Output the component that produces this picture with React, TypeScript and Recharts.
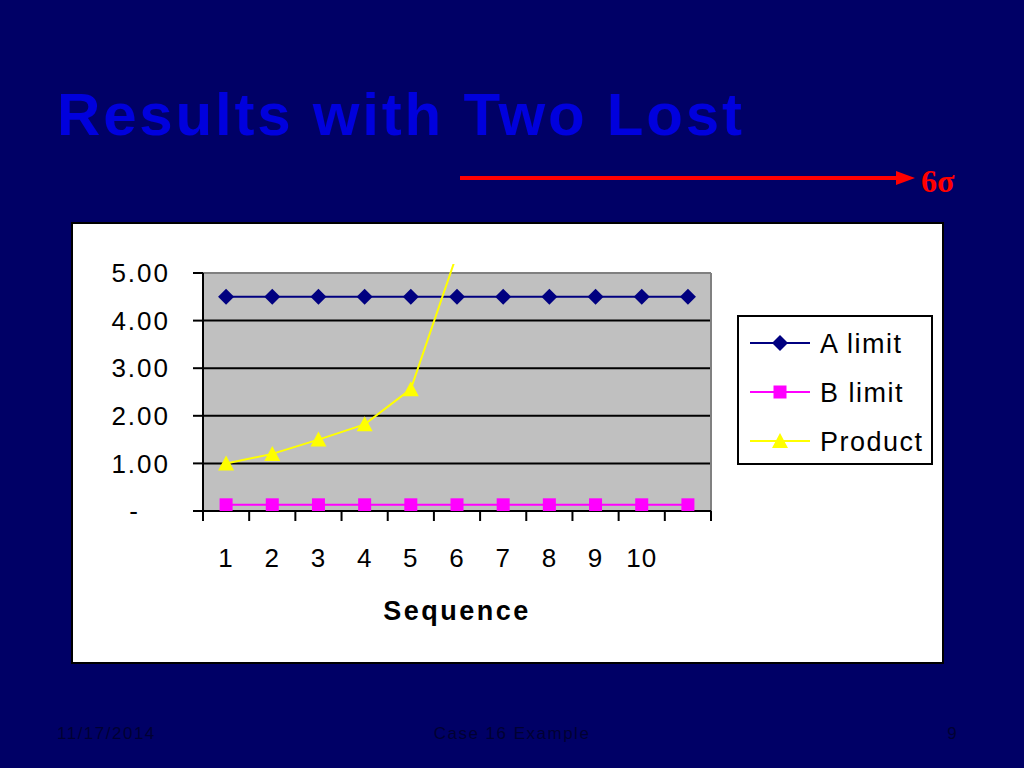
import React from 'react';
import { LineChart, Line, XAxis, YAxis, CartesianGrid, ReferenceLine, Legend } from 'recharts';

// sequence categories (the 11th point has no label on the slide)
const categories = ['1', '2', '3', '4', '5', '6', '7', '8', '9', '10', ''];
const aLimit = [4.5, 4.5, 4.5, 4.5, 4.5, 4.5, 4.5, 4.5, 4.5, 4.5, 4.5];
const bLimit = [0.13, 0.13, 0.13, 0.13, 0.13, 0.13, 0.13, 0.13, 0.13, 0.13, 0.13];
const product = [1.0, 1.2, 1.5, 1.82, 2.56, 5.4, null, null, null, null, null];
const yTicks = [0, 1, 2, 3, 4, 5];

const series = [
  { key: 'a', name: 'A limit', color: '#000080', marker: 'diamond' },
  { key: 'b', name: 'B limit', color: '#FF00FF', marker: 'square' },
  { key: 'product', name: 'Product', color: '#FFFF00', marker: 'triangle' },
];

const data = categories.map((c, i) => ({
  seq: i + 1,
  a: aLimit[i],
  b: bLimit[i],
  product: product[i],
}));

// tick marks sit between categories, labels at the centres
const xTicks = [...categories.flatMap((_, i) => [i + 0.5, i + 1]), categories.length + 0.5];

const FONT = '"Liberation Sans", Arial, sans-serif';

// let the product line run a little past the top of the plot, like the slide does
const clipCss = `
.product-line,
.recharts-line-curve[stroke="#FFFF00"],
g[clip-path]:has(> .recharts-line-curve[stroke="#FFFF00"]) {
  clip-path: url(#productClip) !important;
}
`;

function Marker({ shape, cx, cy, color }: { shape: string; cx: number; cy: number; color: string }) {
  if (shape === 'diamond') {
    return <polygon points={`${cx},${cy - 8} ${cx + 8},${cy} ${cx},${cy + 8} ${cx - 8},${cy}`} fill={color} />;
  }
  if (shape === 'square') {
    return <rect x={cx - 6.5} y={cy - 6.5} width={13} height={13} fill={color} />;
  }
  return <polygon points={`${cx},${cy - 8} ${cx + 8},${cy + 7} ${cx - 8},${cy + 7}`} fill={color} />;
}

const renderDot = (shape: string, color: string) => (p: any) => {
  const k = `${shape}-${p.index}`;
  if (p.cx == null || p.cy == null || p.value == null || Number.isNaN(p.cy)) return <g key={k} />;
  if (p.value > yTicks[yTicks.length - 1]) return <g key={k} />;
  return <Marker key={k} shape={shape} cx={p.cx} cy={p.cy} color={color} />;
};

function YTick({ x, y, payload }: any) {
  const v = payload.value;
  const label = v === 0 ? '-' : v.toFixed(2);
  return (
    <text x={v === 0 ? x - 30 : x} y={y} dy="0.355em" textAnchor="end" fontSize={26}
      letterSpacing={2} fontFamily={FONT} fill="#000">
      {label}
    </text>
  );
}

function XTick({ x, y, payload }: any) {
  const v = payload.value;
  if (!Number.isInteger(v)) {
    return <line x1={x} x2={x} y1={y} y2={y + 10} stroke="#000" strokeWidth={2} />;
  }
  return (
    <text x={x} y={y + 38} dy="0.71em" textAnchor="middle" fontSize={26}
      letterSpacing={1} fontFamily={FONT} fill="#000">
      {categories[v - 1]}
    </text>
  );
}

function LegendBox({ payload }: any) {
  return (
    <svg width={192} height={146} style={{ display: 'block' }}>
      {(payload ?? []).map((entry: any, i: number) => {
        const s = series.find((x) => x.key === entry.dataKey) ?? series[i];
        const cy = 26 + i * 49;
        return (
          <g key={s.key}>
            <line x1={11} x2={71} y1={cy} y2={cy} stroke={s.color} strokeWidth={2} />
            <Marker shape={s.marker} cx={41} cy={cy} color={s.color} />
            <text x={81} y={cy} dy="0.355em" fontSize={27} letterSpacing={1.5}
              fontFamily={FONT} fill="#000">
              {entry.value}
            </text>
          </g>
        );
      })}
    </svg>
  );
}

export default function App() {
  return (
    <div style={{ position: 'absolute', left: 0, top: 0, width: 1024, height: 768, overflow: 'hidden',
      background: '#000066', fontFamily: FONT }}>
      <style>{clipCss}</style>
      <svg width={1024} height={768} style={{ position: 'absolute', left: 0, top: 0 }}>
        <defs>
          <clipPath id="productClip" clipPathUnits="userSpaceOnUse">
            <rect x={203} y={264} width={508} height={260} />
          </clipPath>
        </defs>
        <text x={57} y={135} fontSize={60} fontWeight="bold" fill="#0000DD" letterSpacing={2.8}
          fontFamily={FONT}>Results with Two Lost</text>
        <line x1={460} x2={900} y1={178} y2={178} stroke="#FF0000" strokeWidth={4} />
        <polygon points="896,171 915,178 896,185" fill="#FF0000" />
        <text x={921} y={192} fontSize={32} fontWeight="bold" fill="#FF0000"
          fontFamily='"Liberation Serif", "Times New Roman", serif'>6σ</text>
        <rect x={72} y={223} width={871} height={440} fill="#FFFFFF" stroke="#000" strokeWidth={2} />
        <text x={57} y={739} fontSize={17} letterSpacing={1.5} fill="#000033" fontFamily={FONT}>11/17/2014</text>
        <text x={512} y={739} fontSize={17} letterSpacing={1.5} fill="#000033" textAnchor="middle"
          fontFamily={FONT}>Case 16 Example</text>
        <text x={952} y={739} fontSize={17} fill="#000033" textAnchor="middle" fontFamily={FONT}>9</text>
      </svg>
      <div style={{ position: 'absolute', left: 0, top: 0 }}>
        <LineChart width={1024} height={768} data={data}
          margin={{ top: 273, right: 313, bottom: 142, left: 123 }}>
          <CartesianGrid vertical={false} stroke="#000" strokeWidth={2} fill="#C0C0C0" fillOpacity={1} />
          <XAxis dataKey="seq" type="number" domain={[0.5, 11.5]} ticks={xTicks} interval={0}
            tickSize={0} tickMargin={0} tickLine={false} tick={<XTick />} height={115}
            axisLine={{ stroke: '#000', strokeWidth: 2 }}
            label={{ value: 'Sequence', position: 'insideBottom', offset: 6, fontSize: 27,
              fontWeight: 'bold', fill: '#000', letterSpacing: 2.5, fontFamily: FONT }} />
          <YAxis type="number" domain={[0, 5]} allowDataOverflow ticks={yTicks} interval={0}
            width={80} tickSize={10} tickMargin={23} tick={<YTick />}
            tickLine={{ stroke: '#000', strokeWidth: 2 }} axisLine={{ stroke: '#000', strokeWidth: 2 }} />
          <ReferenceLine y={5} stroke="#808080" strokeWidth={2} />
          <ReferenceLine x={11.5} stroke="#808080" strokeWidth={2} />
          <Legend layout="horizontal" verticalAlign="middle" align="center"
            content={(props: any) => <LegendBox payload={props.payload} />}
            wrapperStyle={{ left: 737, top: 315, width: 196, height: 150, border: '2px solid #000',
              background: '#FFFFFF', boxSizing: 'border-box', margin: 0, padding: 0 }} />
          {series.map((s) => (
            <Line key={s.key} dataKey={s.key} name={s.name} stroke={s.color} strokeWidth={2}
              type="linear" connectNulls={false} isAnimationActive={false}
              className={s.key === 'product' ? 'product-line' : undefined}
              dot={renderDot(s.marker, s.color)} activeDot={false} legendType="line" />
          ))}
        </LineChart>
      </div>
    </div>
  );
}
